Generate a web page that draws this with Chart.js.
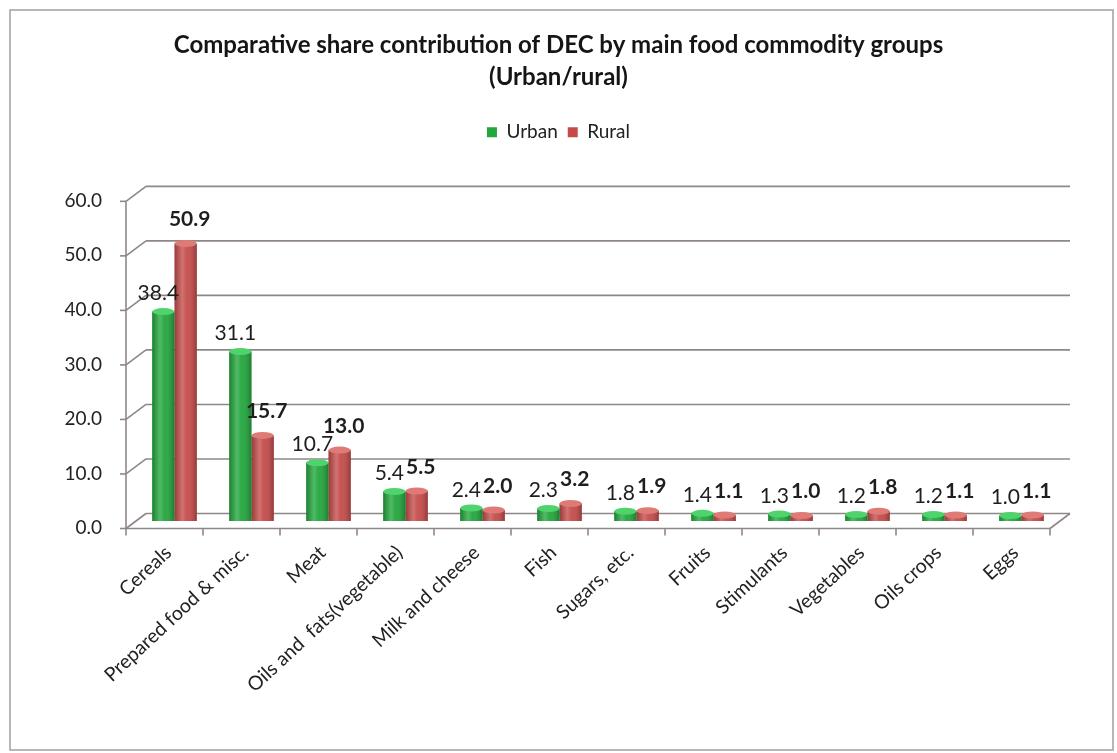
<!DOCTYPE html>
<html>
<head>
<meta charset="utf-8">
<title>Comparative share contribution of DEC</title>
<script src="https://cdn.jsdelivr.net/npm/chart.js@4.4.1/dist/chart.umd.min.js"></script>
<style>
  html, body { margin: 0; padding: 0; background: #ffffff; }
  #wrap { width: 1117px; height: 753px; position: relative; }
</style>
</head>
<body>
<div id="wrap"><canvas id="decChart"></canvas></div>
<script>
// Food commodity groups and their share (%) of DEC
const categories = [
    'Cereals', 'Prepared food & misc.', 'Meat', 'Oils and  fats(vegetable)',
    'Milk and cheese', 'Fish', 'Sugars, etc.', 'Fruits', 'Stimulants',
    'Vegetables', 'Oils crops', 'Eggs'
];
const urbanValues = [38.4, 31.1, 10.7, 5.4, 2.4, 2.3, 1.8, 1.4, 1.3, 1.2, 1.2, 1.0];
const ruralValues = [50.9, 15.7, 13.0, 5.5, 2.0, 3.2, 1.9, 1.1, 1.0, 1.8, 1.1, 1.1];
const yTickLabels = ['0.0', '10.0', '20.0', '30.0', '40.0', '50.0', '60.0'];

const FONT = 'Lato, "Open Sans", sans-serif';
const GRID = '#8f8787';
const DX = 10;    // half depth of the 3D box, horizontal
const DY = 7.5;   // half depth of the 3D box, vertical

// Background and outer frame
const framePlugin = {
    id: 'frame',
    beforeDraw(chart) {
        const ctx = chart.ctx;
        ctx.save();
        ctx.fillStyle = '#ffffff';
        ctx.fillRect(0, 0, chart.width, chart.height);
        ctx.strokeStyle = '#a59d9d';
        ctx.lineWidth = 1.5;
        ctx.strokeRect(10, 10, chart.width - 14, chart.height - 13);
        ctx.restore();
    }
};

// Back wall, side wall and floor of the 3D box
const depthPlugin = {
    id: 'depth',
    beforeDatasetsDraw(chart) {
        const { ctx, chartArea: a, scales: { x, y } } = chart;
        const line = (x1, y1, x2, y2) => {
            ctx.beginPath();
            ctx.moveTo(x1, y1);
            ctx.lineTo(x2, y2);
            ctx.stroke();
        };
        ctx.save();
        ctx.strokeStyle = GRID;
        ctx.lineWidth = 1.6;

        y.ticks.forEach(t => {
            const py = y.getPixelForValue(t.value);
            line(a.left + DX, py - DY, a.right + DX, py - DY);
            line(a.left - DX, py + DY, a.left + DX, py - DY);
            line(a.left - DX - 6, py + DY, a.left - DX, py + DY);
        });

        const top = y.getPixelForValue(y.max);
        const base = y.getPixelForValue(0);
        line(a.left - DX, top + DY, a.left - DX, base + DY);
        line(a.left - DX, base + DY, a.right - DX, base + DY);
        line(a.right - DX, base + DY, a.right + DX, base - DY);

        for (let i = 0; i <= categories.length; i++) {
            const px = x.getPixelForValue(i - 0.5) - DX;
            line(px, base + DY, px, base + DY + 7);
        }
        ctx.restore();
    }
};

// Cylinder shading over each bar + value labels
const cylinderPlugin = {
    id: 'cylinder',
    afterDatasetsDraw(chart) {
        const ctx = chart.ctx;
        const caps = ['#4fd36d', '#e07a77'];
        chart.data.datasets.forEach((ds, i) => {
            const meta = chart.getDatasetMeta(i);
            meta.data.forEach(bar => {
                const w = bar.width, left = bar.x - w / 2;
                const g = ctx.createLinearGradient(left, 0, left + w, 0);
                g.addColorStop(0, 'rgba(0,0,0,0.22)');
                g.addColorStop(0.35, 'rgba(255,255,255,0.22)');
                g.addColorStop(0.55, 'rgba(255,255,255,0.05)');
                g.addColorStop(1, 'rgba(0,0,0,0.25)');
                ctx.save();
                ctx.fillStyle = g;
                ctx.fillRect(left, bar.y, w, bar.base - bar.y);
                ctx.fillStyle = caps[i];
                ctx.beginPath();
                ctx.ellipse(bar.x, bar.y, w / 2, 3.5, 0, 0, Math.PI * 2);
                ctx.fill();
                ctx.restore();
            });
        });

        ctx.save();
        ctx.fillStyle = '#1e1e1e';
        ctx.textAlign = 'center';
        ctx.textBaseline = 'middle';
        chart.data.datasets.forEach((ds, i) => {
            const meta = chart.getDatasetMeta(i);
            ctx.font = (i === 1 ? 'bold ' : '') + '21px ' + FONT;
            meta.data.forEach((bar, j) => {
                const text = ds.data[j].toFixed(1);
                if (i === 0) ctx.fillText(text, bar.x - 5, bar.y - 18);
                else ctx.fillText(text, bar.x + 4, bar.y - 24);
            });
        });
        ctx.restore();
    }
};

// Extra room under the legend
const legendSpacing = {
    id: 'legendSpacing',
    beforeInit(chart) {
        const fit = chart.legend.fit;
        chart.legend.fit = function () {
            fit.bind(chart.legend)();
            this.height += 42;
        };
    }
};

const ctx = document.getElementById('decChart').getContext('2d');
new Chart(ctx, {
    type: 'bar',
    data: {
        labels: categories,
        datasets: [
            { label: 'Urban', data: urbanValues, backgroundColor: '#22a63d' },
            { label: 'Rural', data: ruralValues, backgroundColor: '#c44b49' }
        ]
    },
    options: {
        responsive: true,
        maintainAspectRatio: false,
        animation: false,
        devicePixelRatio: 1,
        layout: { padding: { left: 0, right: 0, top: 0, bottom: 0 } },
        datasets: {
            bar: { categoryPercentage: 0.58, barPercentage: 1.0, borderWidth: 0 }
        },
        plugins: {
            title: {
                display: true,
                text: ['Comparative share contribution of DEC by main food commodity groups', '(Urban/rural)'],
                color: '#151515',
                font: { family: FONT, size: 24, weight: 'bold', lineHeight: 1.33 },
                padding: { top: 29, bottom: 20 }
            },
            legend: {
                display: true,
                position: 'top',
                labels: {
                    boxWidth: 10,
                    boxHeight: 10,
                    color: '#222',
                    font: { family: FONT, size: 19 },
                    padding: 10
                }
            },
            tooltip: { enabled: false }
        },
        scales: {
            x: {
                grid: { display: false, drawTicks: false },
                border: { display: false },
                ticks: {
                    autoSkip: false,
                    minRotation: 43,
                    maxRotation: 43,
                    padding: 20,
                    labelOffset: -6,
                    color: '#222',
                    font: { family: FONT, size: 19.5 }
                },
                afterFit(scale) { scale.height = 232; }
            },
            y: {
                min: 0,
                max: 60,
                grid: { display: false, drawTicks: false },
                border: { display: false },
                ticks: {
                    stepSize: 10,
                    padding: 34,
                    labelOffset: 7,
                    color: '#222',
                    font: { family: FONT, size: 19 },
                    callback: (v, i) => yTickLabels[i]
                },
                afterFit(scale) { scale.width = 136; }
            },
            // empty gutter on the right so the title stays centred on the page
            gutter: {
                type: 'linear',
                position: 'right',
                display: true,
                grid: { display: false, drawTicks: false },
                border: { display: false },
                ticks: { display: false },
                afterFit(scale) { scale.width = 57; }
            }
        }
    },
    plugins: [framePlugin, depthPlugin, cylinderPlugin, legendSpacing]
});
</script>
</body>
</html>
